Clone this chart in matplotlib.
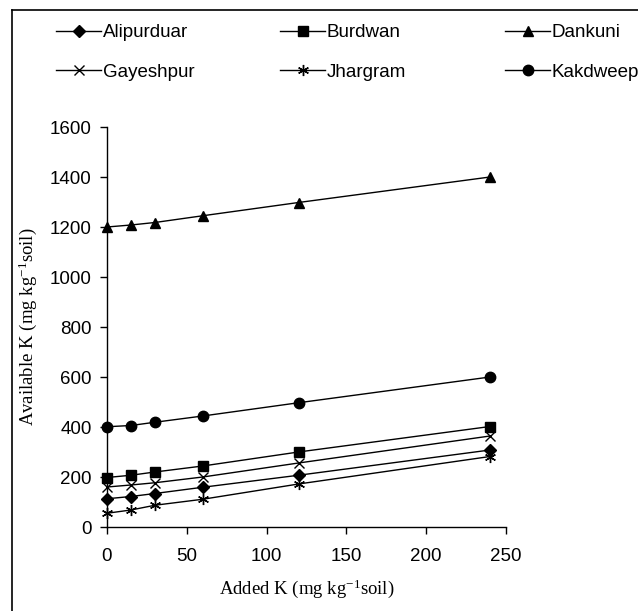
import matplotlib.pyplot as plt
from matplotlib.lines import Line2D

# Added K levels (mg/kg soil)
added_k = [0, 15, 30, 60, 120, 240]

# Available K per site (mg/kg soil)
alipurduar = [113, 122, 134, 159, 207, 308]
burdwan = [198, 207, 220, 244, 300, 402]
dankuni = [1200, 1208, 1218, 1245, 1298, 1400]
gayeshpur = [160, 168, 177, 200, 256, 364]
jhargram = [55, 68, 87, 111, 172, 282]
kakdweep = [401, 406, 419, 444, 497, 600]

sites = ["Alipurduar", "Burdwan", "Dankuni", "Gayeshpur", "Jhargram", "Kakdweep"]
series = [alipurduar, burdwan, dankuni, gayeshpur, jhargram, kakdweep]
markers = ["D", "s", "^", "x", (6, 2, 0), "o"]
msizes = [6, 7, 7.5, 7, 8, 7.5]

plt.rcParams["font.family"] = ["Liberation Sans", "DejaVu Sans"]
plt.rcParams["mathtext.fontset"] = "custom"
plt.rcParams["mathtext.rm"] = "Liberation Serif"
plt.rcParams["mathtext.default"] = "rm"

fig = plt.figure(figsize=(6.38, 6.11), dpi=100)
ax = fig.add_axes([107 / 638, 1 - 527 / 611, 399 / 638, 400 / 611])

handles = []
for name, vals, mk, ms in zip(sites, series, markers, msizes):
    h, = ax.plot(added_k, vals, color="black", lw=1.0, marker=mk, ms=ms,
                 mew=1.0, mfc="black", mec="black", label=name, clip_on=False)
    handles.append(h)

ax.set_xlim(0, 250)
ax.set_ylim(0, 1600)
ax.set_xticks(range(0, 251, 50))
ax.set_yticks(range(0, 1601, 200))
for s in ["top", "right"]:
    ax.spines[s].set_visible(False)
ax.spines["left"].set_linewidth(1.0)
ax.spines["bottom"].set_linewidth(1.0)
ax.tick_params(direction="out", length=5, width=1.0, labelsize=13.5, pad=6)
ax.tick_params(axis="x", pad=10)

ax.set_xlabel("Added K (mg kg$^{-1}$soil)", family="Liberation Serif", fontsize=13.5, labelpad=9)
ax.set_ylabel("Available K (mg kg$^{-1}$soil)", family="Liberation Serif", fontsize=13.5, labelpad=8)

# legend: three columns placed at fixed x positions, two rows each
col_x = [56, 280, 505]
for i, x0 in enumerate(col_x):
    pair = [handles[i], handles[i + 3]]
    leg = fig.legend(handles=pair, labels=[sites[i], sites[i + 3]], loc="upper left",
                     bbox_to_anchor=(x0 / 638, 1 - 24 / 611), frameon=False, fontsize=13.5,
                     handlelength=2.4, handletextpad=0.1, labelspacing=1.2,
                     borderaxespad=0, borderpad=0)

# border round the figure (left and top visible)
fig.add_artist(Line2D([12 / 638, 12 / 638], [0, 1 - 10 / 611], transform=fig.transFigure, color="black", lw=1.2))
fig.add_artist(Line2D([12 / 638, 1], [1 - 10 / 611, 1 - 10 / 611], transform=fig.transFigure, color="black", lw=1.2))

fig.savefig("out.png", dpi=100)
